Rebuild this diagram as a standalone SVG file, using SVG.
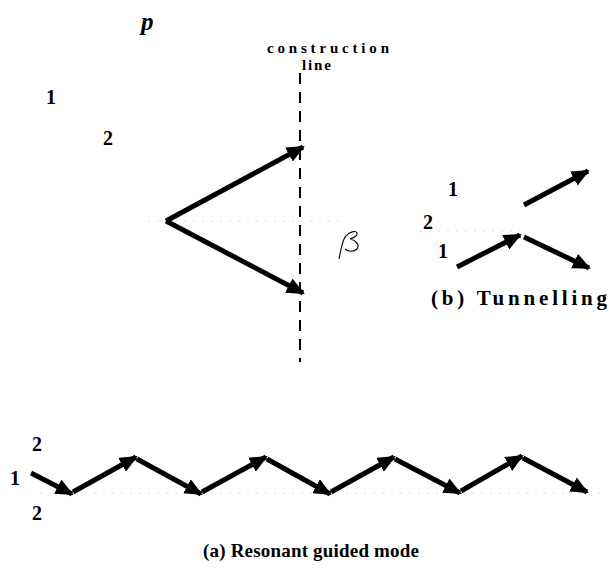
<svg xmlns="http://www.w3.org/2000/svg" width="609" height="575" viewBox="0 0 609 575">
<defs>
<marker id="ah" markerUnits="userSpaceOnUse" markerWidth="19" markerHeight="16" refX="16" refY="8" orient="auto">
<path d="M0,0 L18,8 L0,16 Z" fill="#000"/>
</marker>
<style>
.t{font-family:"Liberation Serif","Times New Roman",serif;font-weight:bold;fill:#000}
.ar{stroke:#000;stroke-width:5;fill:none;marker-end:url(#ah)}
.faint{stroke:#ddd;stroke-width:1;stroke-dasharray:2 7;fill:none}
</style>
</defs>
<rect width="609" height="575" fill="#fff"/>

<g id="labels-top">
<text class="t" x="141" y="30" font-size="25" font-style="italic">p</text>
<text class="t" x="267" y="53" font-size="15" textLength="122" lengthAdjust="spacing">construction</text>
<text class="t" x="302" y="70" font-size="15" textLength="29" lengthAdjust="spacing">line</text>
<text class="t" x="46" y="104" font-size="20">1</text>
<text class="t" x="103" y="145" font-size="20">2</text>
</g>

<g id="construction-line">
<line x1="300" y1="73" x2="300" y2="362" stroke="#000" stroke-width="2" stroke-dasharray="11 8"/>
</g>

<g id="beta">
<path d="M339,259 C341,250 342,240 346,236 C349,232 356,230 357,233 C358,236 353,238 350,239 C356,240 360,245 357,249 C354,252 348,252 345,249" stroke="#000" stroke-width="1.1" fill="none"/>
</g>

<g id="faint-lines">
<line class="faint" x1="148" y1="221" x2="340" y2="221"/>
<line class="faint" x1="40" y1="493" x2="600" y2="493"/>
<line class="faint" x1="420" y1="231" x2="520" y2="231"/>
</g>

<g id="connectors">
<line class="ar" x1="166" y1="221" x2="303" y2="147"/>
<line class="ar" x1="166" y1="221" x2="303" y2="293"/>
<line class="ar" x1="457" y1="267" x2="520" y2="235"/>
<line class="ar" x1="524" y1="237" x2="589" y2="268"/>
<line class="ar" x1="524" y1="205" x2="588" y2="171"/>
<line class="ar" x1="31" y1="473" x2="72" y2="494"/>
<line class="ar" x1="73" y1="492" x2="136" y2="457"/>
<line class="ar" x1="137" y1="459" x2="201" y2="494"/>
<line class="ar" x1="202" y1="492" x2="266" y2="457"/>
<line class="ar" x1="267" y1="459" x2="330" y2="494"/>
<line class="ar" x1="331" y1="492" x2="394" y2="457"/>
<line class="ar" x1="395" y1="459" x2="460" y2="493"/>
<line class="ar" x1="461" y1="491" x2="522" y2="456"/>
<line class="ar" x1="523" y1="458" x2="587" y2="492"/>
</g>

<g id="labels-tunnelling">
<text class="t" x="448" y="196" font-size="20">1</text>
<text class="t" x="423" y="229" font-size="20">2</text>
<text class="t" x="438" y="258" font-size="20">1</text>
<text class="t" x="431" y="305" font-size="21" textLength="176" lengthAdjust="spacing">(b) Tunnelling</text>
</g>

<g id="labels-guided">
<text class="t" x="32" y="451" font-size="20">2</text>
<text class="t" x="10" y="485" font-size="20">1</text>
<text class="t" x="32" y="520" font-size="20">2</text>
<text class="t" x="203" y="557" font-size="19" textLength="216" lengthAdjust="spacing">(a) Resonant guided mode</text>
</g>
</svg>
